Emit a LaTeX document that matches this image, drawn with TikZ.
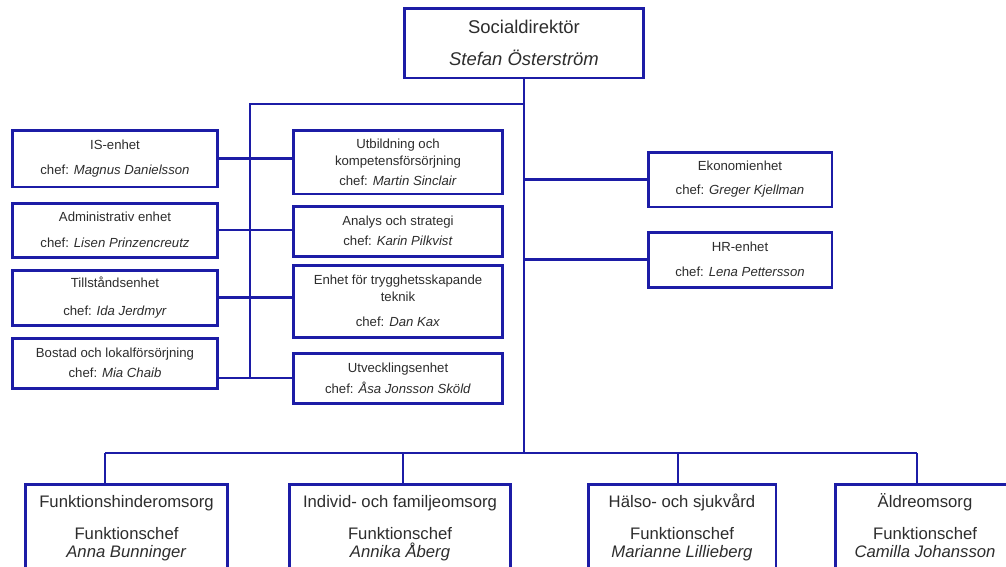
\documentclass[tikz,border=0pt]{standalone}
\usepackage{fontspec}
\setmainfont{Liberation Sans}
\usetikzlibrary{positioning}
\definecolor{orgblue}{RGB}{28,28,166}
\definecolor{orgtext}{RGB}{45,45,45}

\begin{document}
\begin{tikzpicture}[x=0.02cm, y=-0.02cm,
  unitbox/.style={draw=orgblue, line width=1.7pt, fill=white, align=center, text=orgtext,
    font=\fontsize{7.5}{9}\selectfont, inner sep=2pt},
  funcbox/.style={draw=orgblue, line width=1.7pt, fill=white, anchor=north, minimum height=2.4cm},
  functext/.style={align=center, text=orgtext, anchor=north, inner sep=0pt,
    font=\fontsize{9.5}{11.5}\selectfont},
  link/.style={draw=orgblue, line width=1.4pt}]
\useasboundingbox (0,0) rectangle (1006,566);
\clip (0,0) rectangle (1006,566);

% Director
\node[unitbox, minimum width=4.8cm, minimum height=1.4cm, font=\fontsize{10.5}{12.5}\selectfont]
  (chief) at (524,43) {Socialdirektör\\[6pt]\textit{Stefan Österström}};

% Staff units, left column
\node[unitbox, minimum width=4.12cm, minimum height=1.14cm] (isunit) at (115,158.5)
  {IS-enhet\\[5.7pt]chef: \textit{Magnus Danielsson}};
\node[unitbox, minimum width=4.12cm, minimum height=1.08cm] (adm) at (115,230)
  {Administrativ enhet\\[5.7pt]chef: \textit{Lisen Prinzencreutz}};
\node[unitbox, minimum width=4.12cm, minimum height=1.1cm] (till) at (115,297.5)
  {Tillståndsenhet\\[7pt]chef: \textit{Ida Jerdmyr}};
\node[unitbox, minimum width=4.12cm, minimum height=1.0cm] (bost) at (115,363)
  {Bostad och lokalförsörjning\\[2.3pt]chef: \textit{Mia Chaib}};

% Staff units, middle column
\node[unitbox, minimum width=4.18cm, minimum height=1.28cm] (utb) at (398,162)
  {Utbildning och\\[0.6pt]kompetensförsörjning\\[2.3pt]chef: \textit{Martin Sinclair}};
\node[unitbox, minimum width=4.18cm, minimum height=1.0cm] (analys) at (398,231)
  {Analys och strategi\\[2.3pt]chef: \textit{Karin Pilkvist}};
\node[unitbox, minimum width=4.18cm, minimum height=1.44cm] (tryg) at (398,301)
  {Enhet för trygghetsskapande\\[0.6pt]teknik\\[5pt]chef: \textit{Dan Kax}};
\node[unitbox, minimum width=4.18cm, minimum height=1.0cm] (utv) at (398,378)
  {Utvecklingsenhet\\[3pt]chef: \textit{Åsa Jonsson Sköld}};

% Staff units, right
\node[unitbox, minimum width=3.68cm, minimum height=1.1cm] (eko) at (740,179.5)
  {Ekonomienhet\\[4.6pt]chef: \textit{Greger Kjellman}};
\node[unitbox, minimum width=3.68cm, minimum height=1.1cm] (hr) at (740,259.5)
  {HR-enhet\\[5pt]chef: \textit{Lena Pettersson}};

% Functions
\node[funcbox, minimum width=4.06cm] (funk) at (126.5,483) {};
\node[funcbox, minimum width=4.44cm] (indiv) at (400,483) {};
\node[funcbox, minimum width=3.76cm] (halso) at (682,483) {};
\node[funcbox, minimum width=3.6cm] (aldre) at (925,483) {};
\node[functext] (funktxt) at ([yshift=-7pt]funk.north)
  {Funktionshinderomsorg\\[6.5pt]Funktionschef\\[-1.2pt]\textit{Anna Bunninger}};
\node[functext] (indivtxt) at ([yshift=-7pt]indiv.north)
  {Individ- och familjeomsorg\\[6.5pt]Funktionschef\\[-1.2pt]\textit{Annika \smash{Å}berg}};
\node[functext] (halsotxt) at ([yshift=-7pt]halso.north)
  {Hälso- och sjukv\smash{å}rd\\[6.5pt]Funktionschef\\[-1.2pt]\textit{Marianne Lillieberg}};
\node[functext] (aldretxt) at ([yshift=-7pt]aldre.north)
  {\smash{Ä}ldreomsorg\\[6.5pt]Funktionschef\\[-1.2pt]\textit{Camilla Johansson}};

% Connectors
\coordinate (stafftop) at (250,104);
\coordinate (busl) at (105,453);
\coordinate (busr) at (917,453);
\draw[link] (chief.south) -- (chief.south |- busl);
\draw[link] (chief.south |- stafftop) -- (stafftop) -- (stafftop |- utv.west);
\draw[link] (isunit.east) -- (isunit.east -| utb.west);
\draw[link] (adm.east) -- (adm.east -| analys.west);
\draw[link] (till.east) -- (till.east -| tryg.west);
\draw[link] (bost.east |- utv.west) -- (utv.west);
\draw[link] (chief.south |- eko.west) -- (eko.west);
\draw[link] (chief.south |- hr.west) -- (hr.west);
\draw[link] (busl) -- (busr);
\foreach \x/\unit in {105/funk, 403/indiv, 678/halso, 917/aldre}
  \draw[link] (\x,453) -- (\unit.north -| \x,0);
\end{tikzpicture}
\end{document}
